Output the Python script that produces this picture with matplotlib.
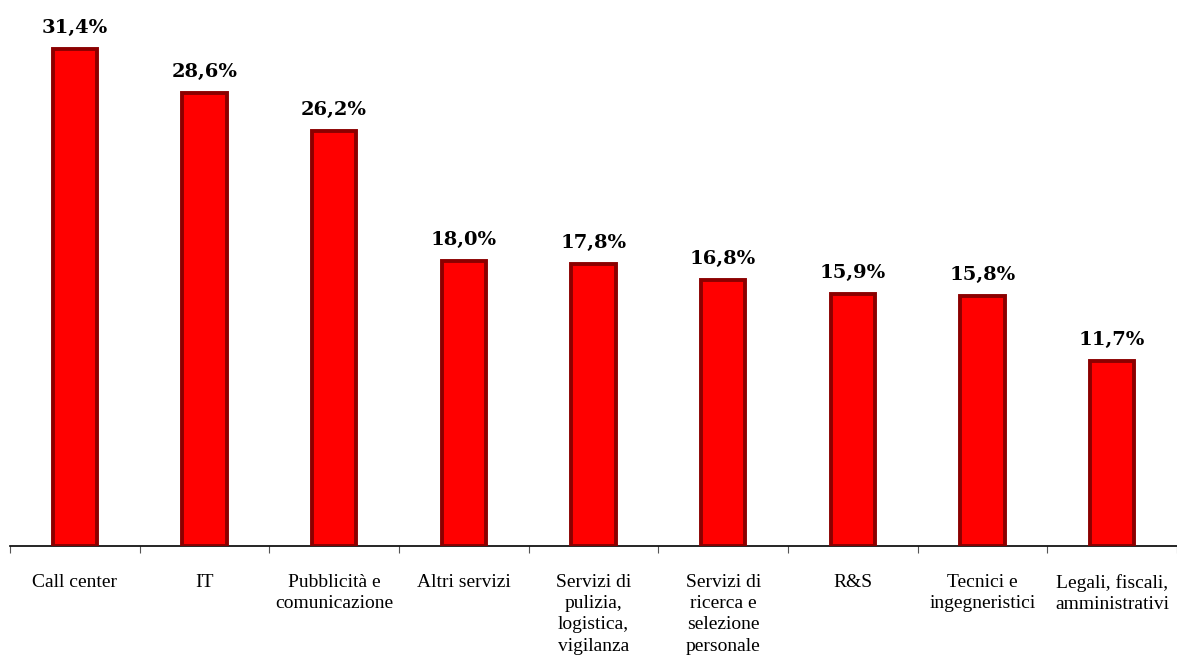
import matplotlib
matplotlib.use("Agg")
import matplotlib.pyplot as plt
import numpy as np

categories = ["Call center", "IT", "Pubblicità e\ncomunicazione", "Altri servizi",
              "Servizi di\npulizia,\nlogistica,\nvigilanza", "Servizi di\nricerca e\nselezione\npersonale",
              "R&S", "Tecnici e\ningegneristici", "Legali, fiscali,\namministrativi"]
values = [31.4, 28.6, 26.2, 18.0, 17.8, 16.8, 15.9, 15.8, 11.7]
value_labels = ["31,4%", "28,6%", "26,2%", "18,0%", "17,8%", "16,8%", "15,9%", "15,8%", "11,7%"]

fig = plt.figure(figsize=(11.77, 6.55), dpi=100)
ax = fig.add_axes([10/1177, 109/655, 1167/1177, 546/655])
x = np.arange(len(categories))
ax.bar(x, values, width=0.34, color="#FF0000", edgecolor="#8B0000", linewidth=2.8, zorder=3)
for xi, v, lab in zip(x, values, value_labels):
    ax.text(xi, v + 0.75, lab, ha="center", va="bottom", fontsize=14, fontweight="heavy",
            family="DejaVu Serif", color="black")

ax.set_xlim(-0.5, len(categories) - 0.5)
ax.set_ylim(0, 34.49)
for s in ["top", "right", "left"]:
    ax.spines[s].set_visible(False)
ax.spines["bottom"].set_linewidth(1.2)
ax.set_yticks([])
ax.set_xticks(np.arange(len(categories) + 1) - 0.5)
ax.set_xticklabels([])
ax.tick_params(axis="x", which="major", length=5, width=0.8, color="#555555")
ax.set_xticks(x, minor=True)
ax.set_xticklabels(categories, minor=True, fontsize=14, family="Liberation Serif", linespacing=1.33)
ax.tick_params(axis="x", which="minor", length=0, pad=20)

fig.savefig("out.png", dpi=100)
